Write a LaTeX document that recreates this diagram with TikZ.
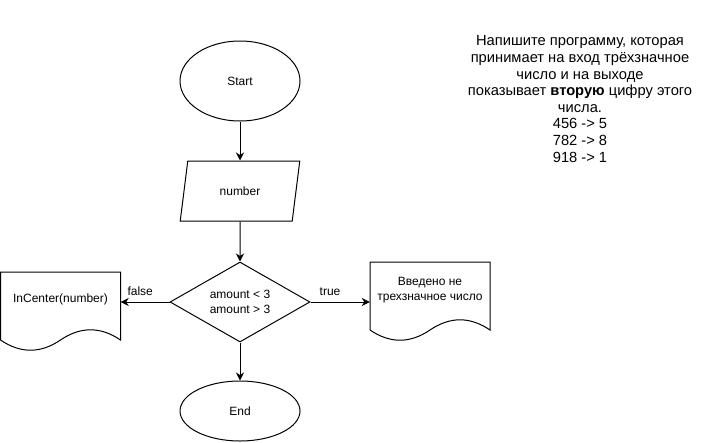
\documentclass[tikz,border=0pt]{standalone}
\usepackage{fontspec}
\setmainfont{Liberation Sans}
\usetikzlibrary{shapes.geometric, arrows.meta}

\tikzset{
  flow/.style={line width=1pt, black},
  terminal/.style={flow, draw, ellipse, minimum width=120, minimum height=80, inner sep=0pt, font=\fontsize{12}{14.4}\selectfont},
  inbox/.style={flow, draw, trapezium, trapezium left angle=71.57, trapezium right angle=108.43,
    trapezium stretches=true, minimum width=120, minimum height=60, inner sep=0pt, font=\fontsize{12}{14.4}\selectfont},
  decision/.style={flow, draw, diamond, aspect=1.75, minimum width=140, minimum height=80, inner sep=0pt,
    align=center, font=\fontsize{12}{14.4}\selectfont},
  doctext/.style={inner sep=0pt, align=center, font=\fontsize{12}{14.4}\selectfont},
  edgelabel/.style={font=\fontsize{12}{14.4}\selectfont, inner sep=1pt},
  arrow/.style={flow, -{Stealth[length=8pt, width=8pt, inset=2.5pt]}},
}

\begin{document}
\begin{tikzpicture}[x=1pt, y=-1pt]
  \useasboundingbox (0,0) rectangle (701,442);

  % Main column
  \node[terminal] (start) at (240,81) {Start};
  \node[inbox] (number) at (240,191) {number};
  \node[decision] (check) at (240,302) {amount < 3\\amount > 3};
  \node[terminal, minimum height=60] (stop) at (240,411) {End};

  % Document on the left (false branch)
  \begin{scope}[shift={(0.5,272)}]
    \draw[flow] (0,0) -- (120,0) -- (120,68)
      .. controls (100,54.4) and (80,54.4) .. (60,68)
      .. controls (40,81.6) and (20,81.6) .. (0,68) -- cycle;
  \end{scope}
  \node[doctext, minimum width=120] (center) at (60.5,299) {InCenter(number)};

  % Document on the right (true branch)
  \begin{scope}[shift={(370,262)}]
    \draw[flow] (0,0) -- (120,0) -- (120,68)
      .. controls (100,54.4) and (80,54.4) .. (60,68)
      .. controls (40,81.6) and (20,81.6) .. (0,68) -- cycle;
  \end{scope}
  \node[doctext, minimum width=120] (wrong) at (430,290) {Введено не\\трехзначное число};

  % Task text
  \node[align=center, font=\fontsize{14.7}{16.6}\selectfont] (task) at (580,99)
    {Напишите программу, которая\\принимает на вход трёхзначное\\число и на выходе\\показывает \textbf{вторую} цифру этого\\числа.\\456 -> 5\\782 -> 8\\918 -> 1};

  % Connectors
  \draw[arrow] (start) -- (number);
  \draw[arrow] (number) -- (check);
  \draw[arrow] (check) -- (stop);
  \draw[arrow] (check.west) -- (center.east |- check.west)
    node[edgelabel, pos=0.6, above=5pt] {false};
  \draw[arrow] (check.east) -- (wrong.west |- check.east)
    node[edgelabel, pos=0.33, above=5pt] {true};

\end{tikzpicture}
\end{document}
